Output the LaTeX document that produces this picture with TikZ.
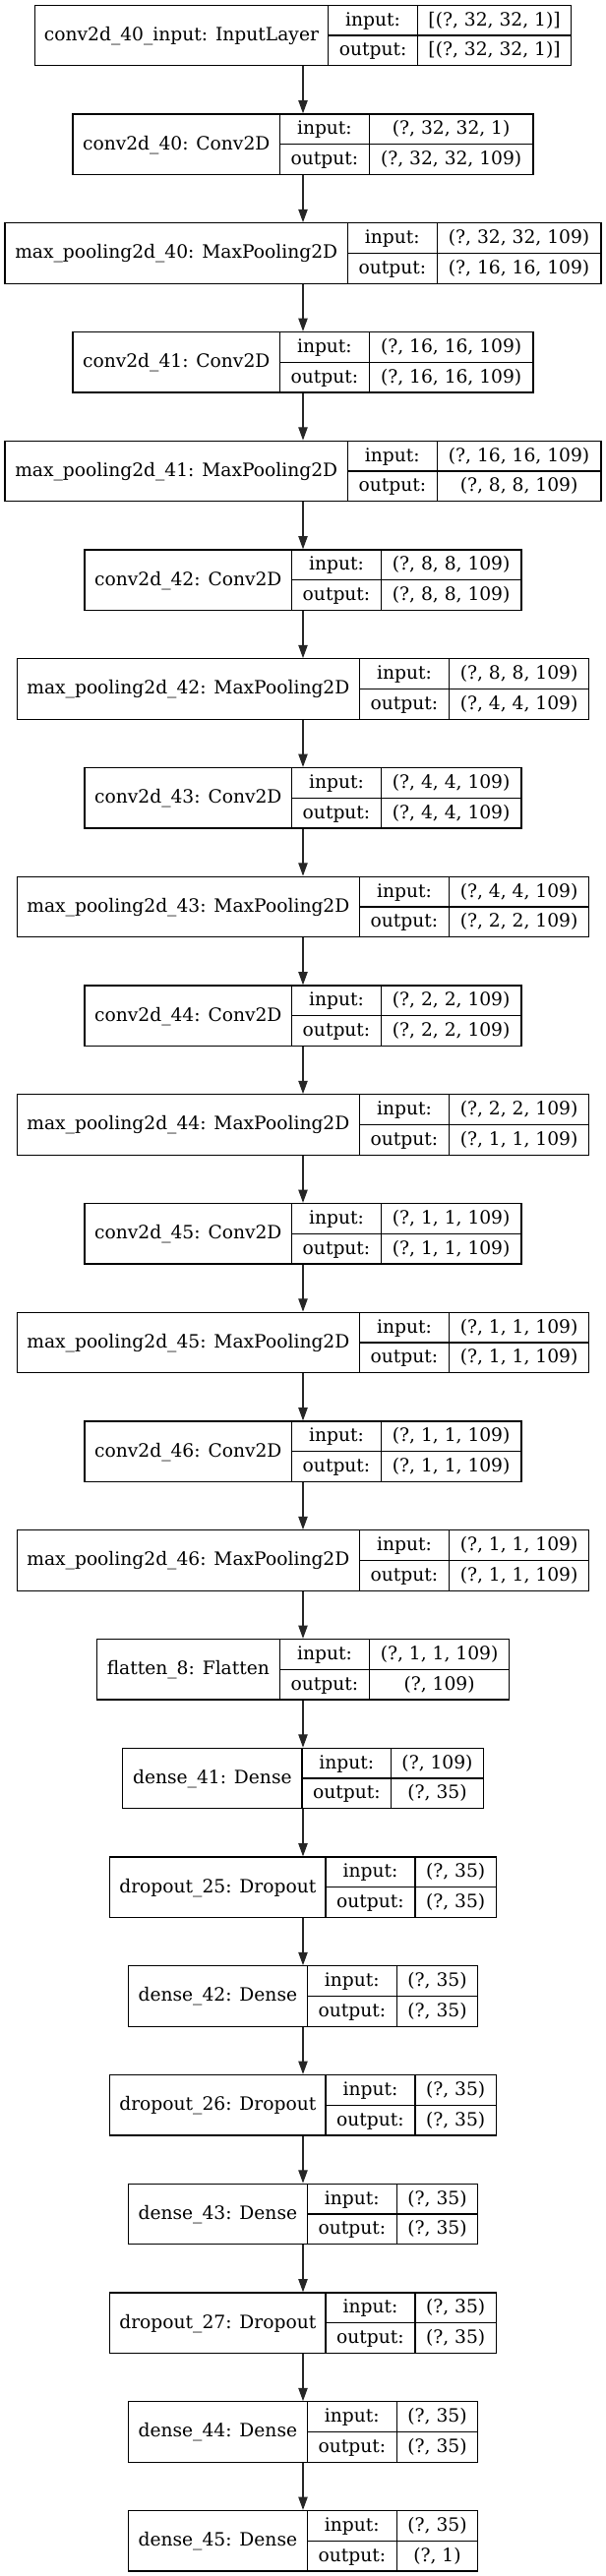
\documentclass[tikz,border=0pt]{standalone}
\usepackage{fontspec}
\setmainfont{DejaVu Serif}
\usetikzlibrary{arrows.meta}
\tikzset{
  layer/.style={draw=black, line width=1pt, rectangle, inner sep=0pt, minimum height=61.5*0.75pt},
  txt/.style={inner sep=0pt, font=\fontsize{14}{16}\selectfont, text height=11pt, text depth=3pt, anchor=center},
  cell/.style={draw=black, line width=1pt},
  edge/.style={draw=black!85, line width=1pt, -{Triangle[length=10pt,width=7pt]}}
}
\newcommand\keraslayer[7]{%
  \pgfmathsetmacro\yt{5.3+110.75*(#2-1)}%
  \pgfmathsetmacro\W{#3+90.9+#4}%
  \pgfmathsetmacro\xl{308-\W/2}%
  \pgfmathsetmacro\xa{\xl+#3}%
  \pgfmathsetmacro\xb{\xa+90.9}%
  \pgfmathsetmacro\xr{\xl+\W}%
  \node[layer, minimum width=\W*0.75pt] (#1) at (308,\yt+30.75) {};
  \node[txt] (#1-name) at ({(\xl+\xa)/2},\yt+30.75) {#5};
  \node[txt] (#1-il) at ({(\xa+\xb)/2},\yt+15.375) {input:};
  \node[txt] (#1-ol) at ({(\xa+\xb)/2},\yt+46.125) {output:};
  \node[txt] (#1-iv) at ({(\xb+\xr)/2},\yt+15.375) {#6};
  \node[txt] (#1-ov) at ({(\xb+\xr)/2},\yt+46.125) {#7};
  \draw[cell] (\xa,\yt) -- (\xa,\yt+61.5);
  \draw[cell] (\xb,\yt) -- (\xb,\yt+61.5);
  \draw[cell] (\xa,\yt+30.75) -- (\xr,\yt+30.75);
}
\begin{document}
\begin{tikzpicture}[x=0.75pt,y=-0.75pt]
\useasboundingbox (0,0) rectangle (616,2619);
\fill[white] (0,0) rectangle (616,2619);
\keraslayer{L1}{1}{298.2}{156.1}{conv2d\_40\_input: InputLayer}{[(?, 32, 32, 1)]}{[(?, 32, 32, 1)]}
\keraslayer{L2}{2}{210.4}{166.6}{conv2d\_40: Conv2D}{(?, 32, 32, 1)}{(?, 32, 32, 109)}
\keraslayer{L3}{3}{348.3}{166.6}{max\_pooling2d\_40: MaxPooling2D}{(?, 32, 32, 109)}{(?, 16, 16, 109)}
\keraslayer{L4}{4}{210.4}{166.6}{conv2d\_41: Conv2D}{(?, 16, 16, 109)}{(?, 16, 16, 109)}
\keraslayer{L5}{5}{348.3}{166.6}{max\_pooling2d\_41: MaxPooling2D}{(?, 16, 16, 109)}{(?, 8, 8, 109)}
\keraslayer{L6}{6}{210.4}{142.4}{conv2d\_42: Conv2D}{(?, 8, 8, 109)}{(?, 8, 8, 109)}
\keraslayer{L7}{7}{348.3}{142.4}{max\_pooling2d\_42: MaxPooling2D}{(?, 8, 8, 109)}{(?, 4, 4, 109)}
\keraslayer{L8}{8}{210.4}{142.4}{conv2d\_43: Conv2D}{(?, 4, 4, 109)}{(?, 4, 4, 109)}
\keraslayer{L9}{9}{348.3}{142.4}{max\_pooling2d\_43: MaxPooling2D}{(?, 4, 4, 109)}{(?, 2, 2, 109)}
\keraslayer{L10}{10}{210.4}{142.4}{conv2d\_44: Conv2D}{(?, 2, 2, 109)}{(?, 2, 2, 109)}
\keraslayer{L11}{11}{348.3}{142.4}{max\_pooling2d\_44: MaxPooling2D}{(?, 2, 2, 109)}{(?, 1, 1, 109)}
\keraslayer{L12}{12}{210.4}{142.4}{conv2d\_45: Conv2D}{(?, 1, 1, 109)}{(?, 1, 1, 109)}
\keraslayer{L13}{13}{348.3}{142.4}{max\_pooling2d\_45: MaxPooling2D}{(?, 1, 1, 109)}{(?, 1, 1, 109)}
\keraslayer{L14}{14}{210.4}{142.4}{conv2d\_46: Conv2D}{(?, 1, 1, 109)}{(?, 1, 1, 109)}
\keraslayer{L15}{15}{348.3}{142.4}{max\_pooling2d\_46: MaxPooling2D}{(?, 1, 1, 109)}{(?, 1, 1, 109)}
\keraslayer{L16}{16}{186.3}{142.4}{flatten\_8: Flatten}{(?, 1, 1, 109)}{(?, 109)}
\keraslayer{L17}{17}{182.1}{93.4}{dense\_41: Dense}{(?, 109)}{(?, 35)}
\keraslayer{L18}{18}{219.3}{82.4}{dropout\_25: Dropout}{(?, 35)}{(?, 35)}
\keraslayer{L19}{19}{182.1}{82.4}{dense\_42: Dense}{(?, 35)}{(?, 35)}
\keraslayer{L20}{20}{219.3}{82.4}{dropout\_26: Dropout}{(?, 35)}{(?, 35)}
\keraslayer{L21}{21}{182.1}{82.4}{dense\_43: Dense}{(?, 35)}{(?, 35)}
\keraslayer{L22}{22}{219.3}{82.4}{dropout\_27: Dropout}{(?, 35)}{(?, 35)}
\keraslayer{L23}{23}{182.1}{82.4}{dense\_44: Dense}{(?, 35)}{(?, 35)}
\keraslayer{L24}{24}{182.1}{82.4}{dense\_45: Dense}{(?, 35)}{(?, 1)}
\foreach \i in {1,...,23}{
  \pgfmathtruncatemacro\j{\i+1}
  \draw[edge] (L\i.south) -- (L\j.north);
}
\end{tikzpicture}
\end{document}
